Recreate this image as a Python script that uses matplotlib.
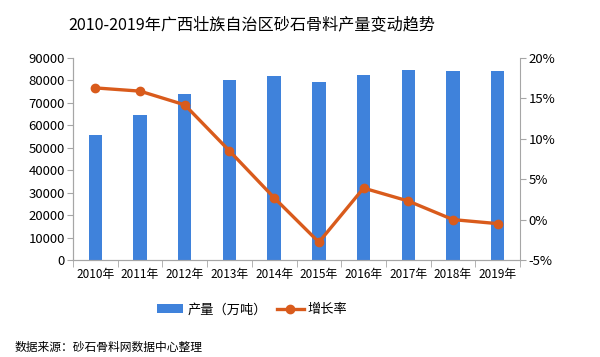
import matplotlib.pyplot as plt
import numpy as np
from matplotlib.ticker import FuncFormatter, FixedLocator

plt.rcParams['font.family'] = ['Noto Sans CJK SC', 'DejaVu Sans']

years = ['2010年', '2011年', '2012年', '2013年', '2014年',
         '2015年', '2016年', '2017年', '2018年', '2019年']
output = [55500, 64800, 73900, 80000, 82000, 79300, 82400, 84700, 84400, 84000]
growth = [16.3, 15.9, 14.2, 8.5, 2.7, -2.8, 3.9, 2.3, 0.0, -0.5]

bar_color = '#3F82DB'
line_color = '#D95B1C'
axis_color = '#A6A6A6'

fig = plt.figure(figsize=(6, 3.57), dpi=100)
ax = fig.add_axes([0.1217, 0.2717, 0.745, 0.5658])
ax2 = ax.twinx()

x = np.arange(len(years))
ax.bar(x, output, width=0.3, color=bar_color, zorder=2)
ax2.plot(x, growth, color=line_color, linewidth=2.4, marker='o',
         markersize=6, zorder=3)

ax.set_xlim(-0.5, len(years) - 0.5)
ax.set_ylim(0, 90000)
ax.set_yticks(range(0, 90001, 10000))
ax2.set_ylim(-5, 20)
ax2.set_yticks(range(-5, 21, 5))
ax2.yaxis.set_major_formatter(FuncFormatter(lambda v, p: f'{v:.0f}%'))

ax.set_xticks(x)
ax.set_xticklabels(years, fontsize=8.5)
ax.xaxis.set_minor_locator(FixedLocator(np.arange(-0.5, len(years), 1)))
ax.tick_params(axis='x', which='major', length=0, pad=6)
ax.tick_params(axis='x', which='minor', length=5, color=axis_color)
ax.tick_params(axis='y', labelsize=9.5, length=4, color=axis_color, pad=2)
ax2.tick_params(axis='y', labelsize=9.5, length=4, color=axis_color, pad=2)

for a in (ax, ax2):
    a.spines['top'].set_visible(False)
    for s in ('left', 'right', 'bottom'):
        a.spines[s].set_color(axis_color)
ax.spines['right'].set_visible(False)

fig.text(0.42, 0.93, '2010-2019年广西壮族自治区砂石骨料产量变动趋势',
         ha='center', va='center', fontsize=11.6)

# legend
handles = [ax.containers[0], ax2.lines[0]]
fig.legend(handles, ['产量（万吨）', '增长率'], loc='center',
           bbox_to_anchor=(0.42, 0.132), ncol=2, frameon=False,
           fontsize=9.5, handlelength=2.0, columnspacing=0.8,
           handletextpad=0.3)

fig.text(0.025, 0.028, '数据来源：砂石骨料网数据中心整理', fontsize=8.5,
         ha='left', va='center')

fig.savefig('out.png', dpi=100)
